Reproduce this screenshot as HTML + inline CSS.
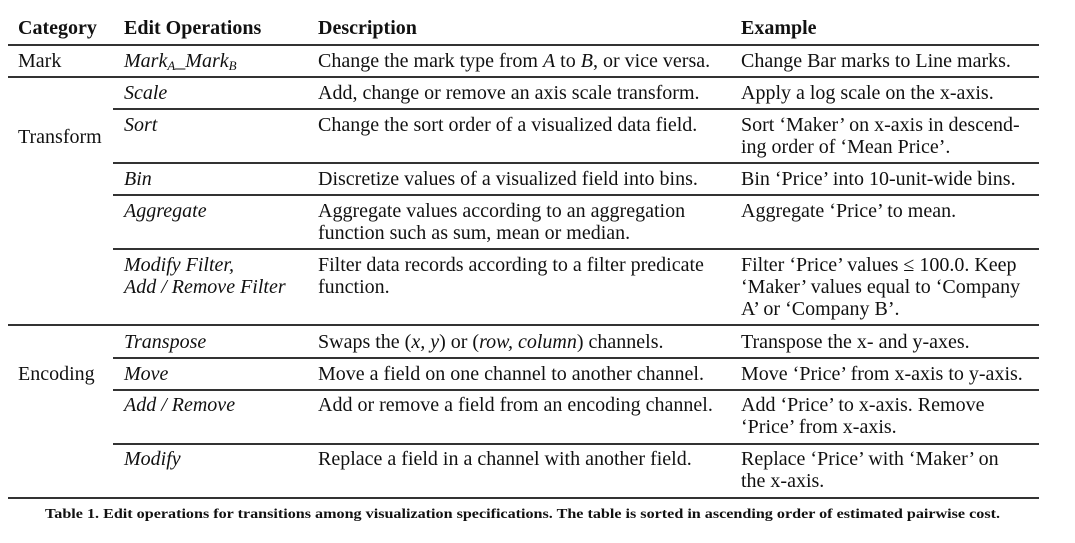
<!DOCTYPE html>
<html><head><meta charset="utf-8">
<style>
html,body{margin:0;padding:0;background:#fff;}
#page{position:relative;width:1075px;height:543px;overflow:hidden;font-family:"Liberation Serif",serif;font-size:20px;color:#111;line-height:22px;}
.t{position:absolute;white-space:nowrap;}
.h{font-weight:bold;}
.i{font-style:italic;}
.ln{position:absolute;height:1.5px;background:#333;}
sub{font-size:13px;line-height:0;vertical-align:-3px;}
</style></head>
<body>
<div id="page">
<div class="t h" style="left:18px;top:17px">Category</div>
<div class="t h" style="left:124px;top:17px">Edit Operations</div>
<div class="t h" style="left:318px;top:17px">Description</div>
<div class="t h" style="left:741px;top:17px">Example</div>
<div class="ln" style="left:8px;width:1031px;top:44px"></div>

<div class="t" style="left:18px;top:50px">Mark</div>
<div class="t i" style="left:124px;top:50px">Mark<sub>A</sub>_Mark<sub>B</sub></div>
<div class="t" style="left:318px;top:50px">Change the mark type from <i>A</i> to <i>B</i>, or vice versa.</div>
<div class="t" style="left:741px;top:50px">Change Bar marks to Line marks.</div>
<div class="ln" style="left:8px;width:1031px;top:76px"></div>

<div class="t" style="left:18px;top:126px">Transform</div>
<div class="t i" style="left:124px;top:82px">Scale</div>
<div class="t" style="left:318px;top:82px">Add, change or remove an axis scale transform.</div>
<div class="t" style="left:741px;top:82px">Apply a log scale on the x-axis.</div>
<div class="ln" style="left:113px;width:926px;top:108px"></div>

<div class="t i" style="left:124px;top:114px">Sort</div>
<div class="t" style="left:318px;top:114px">Change the sort order of a visualized data field.</div>
<div class="t" style="left:741px;top:114px">Sort ‘Maker’ on x-axis in descend-<br>ing order of ‘Mean Price’.</div>
<div class="ln" style="left:113px;width:926px;top:162px"></div>

<div class="t i" style="left:124px;top:168px">Bin</div>
<div class="t" style="left:318px;top:168px">Discretize values of a visualized field into bins.</div>
<div class="t" style="left:741px;top:168px">Bin ‘Price’ into 10-unit-wide bins.</div>
<div class="ln" style="left:113px;width:926px;top:194px"></div>

<div class="t i" style="left:124px;top:200px">Aggregate</div>
<div class="t" style="left:318px;top:200px">Aggregate values according to an aggregation<br>function such as sum, mean or median.</div>
<div class="t" style="left:741px;top:200px">Aggregate ‘Price’ to mean.</div>
<div class="ln" style="left:113px;width:926px;top:248px"></div>

<div class="t i" style="left:124px;top:254px">Modify Filter,<br>Add / Remove Filter</div>
<div class="t" style="left:318px;top:254px">Filter data records according to a filter predicate<br>function.</div>
<div class="t" style="left:741px;top:254px">Filter ‘Price’ values ≤ 100.0. Keep<br>‘Maker’ values equal to ‘Company<br>A’ or ‘Company B’.</div>
<div class="ln" style="left:8px;width:1031px;top:324px"></div>

<div class="t" style="left:18px;top:363px">Encoding</div>
<div class="t i" style="left:124px;top:331px">Transpose</div>
<div class="t" style="left:318px;top:331px">Swaps the (<i>x, y</i>) or (<i>row, column</i>) channels.</div>
<div class="t" style="left:741px;top:331px">Transpose the x- and y-axes.</div>
<div class="ln" style="left:113px;width:926px;top:357px"></div>

<div class="t i" style="left:124px;top:363px">Move</div>
<div class="t" style="left:318px;top:363px">Move a field on one channel to another channel.</div>
<div class="t" style="left:741px;top:363px">Move ‘Price’ from x-axis to y-axis.</div>
<div class="ln" style="left:113px;width:926px;top:389px"></div>

<div class="t i" style="left:124px;top:394px">Add / Remove</div>
<div class="t" style="left:318px;top:394px">Add or remove a field from an encoding channel.</div>
<div class="t" style="left:741px;top:394px">Add ‘Price’ to x-axis. Remove<br>‘Price’ from x-axis.</div>
<div class="ln" style="left:113px;width:926px;top:443px"></div>

<div class="t i" style="left:124px;top:448px">Modify</div>
<div class="t" style="left:318px;top:448px">Replace a field in a channel with another field.</div>
<div class="t" style="left:741px;top:448px">Replace ‘Price’ with ‘Maker’ on<br>the x-axis.</div>
<div class="ln" style="left:8px;width:1031px;top:497px;height:2px"></div>

<svg style="position:absolute;left:0;top:500px" width="1075" height="30">
<text x="45" y="18" font-family="Liberation Serif, serif" font-weight="bold" font-size="14" fill="#111" textLength="955" lengthAdjust="spacingAndGlyphs">Table 1. Edit operations for transitions among visualization specifications. The table is sorted in ascending order of estimated pairwise cost.</text>
</svg>
</div>
</body></html>
